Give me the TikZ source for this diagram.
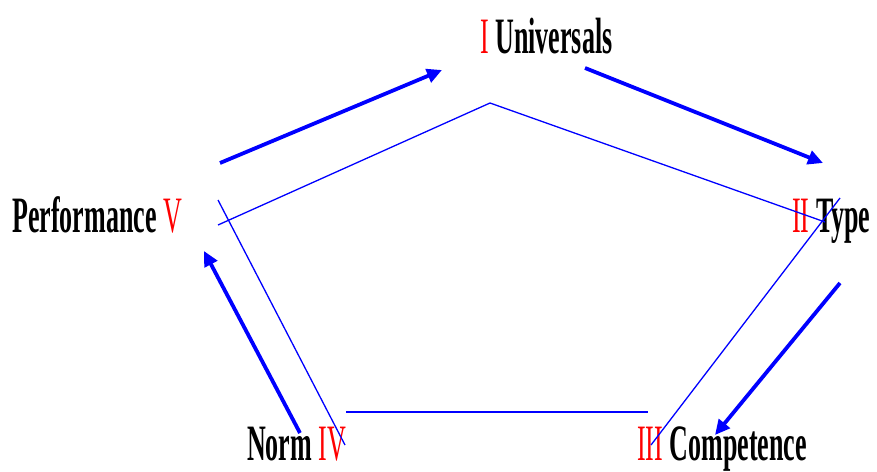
\documentclass[tikz,border=0pt]{standalone}
\usepackage{xcolor}
\usepackage{fontspec}
\usepackage{tikz}
\usetikzlibrary{positioning, arrows.meta}

\newfontfamily\lblfont[FakeStretch=0.51]{Liberation Serif}
\newcommand{\nr}[1]{{\color{red}\mdseries#1}}

\begin{document}
\begin{tikzpicture}[
    x=1pt, y=-1pt,
    >=Stealth,
    % Labels
    lbl/.style={font=\lblfont\bfseries\fontsize{51}{51}\selectfont, inner sep=0pt, anchor=base west, text=black},
    % Pentagon and arrows
    edge_line/.style={draw=blue, line width=1.3pt},
    base_line/.style={draw=blue, line width=2.6pt},
    flow/.style={draw=blue, line width=3.8pt, -{Triangle[length=15pt, width=14pt]}}
]
    \useasboundingbox (0,0) rectangle (877,471);

    % --- LABELS ---
    \node[lbl] (univ) at (480,53) {\nr{I} Universals};
    \node[lbl] (type) at (792,232) {\nr{II} Type};
    \node[lbl] (comp) at (637,460) {\nr{III} Competence};
    \node[lbl] (norm) at (247,460) {Norm \nr{IV}};
    \node[lbl] (perf) at (12,232) {Performance \nr{V}};

    % --- PENTAGON CORNERS ---
    \coordinate (pU)  at (490,103);
    \coordinate (pT1) at (825,222);
    \coordinate (pT2) at (840,198);
    \coordinate (pC)  at (651,445);
    \coordinate (pB2) at (648,412);
    \coordinate (pB1) at (346,412);
    \coordinate (pN)  at (345,445);
    \coordinate (pP2) at (218,200);
    \coordinate (pP1) at (218,225);

    % --- PENTAGON ---
    \draw[edge_line] (pP1) -- (pU) -- (pT1);
    \draw[edge_line] (pT2) -- (pC);
    \draw[base_line] (pB1) -- (pB2);
    \draw[edge_line] (pP2) -- (pN);

    % --- ARROW ENDS ---
    \coordinate (a1s) at (220,163);
    \coordinate (a1e) at (442,70);
    \coordinate (a2s) at (585,68);
    \coordinate (a2e) at (823,163);
    \coordinate (a3s) at (840,283);
    \coordinate (a3e) at (715,435);
    \coordinate (a4s) at (300,433);
    \coordinate (a4e) at (204,251);

    % --- CYCLE ARROWS ---
    \draw[flow] (a1s) -- (a1e);
    \draw[flow] (a2s) -- (a2e);
    \draw[flow] (a3s) -- (a3e);
    \draw[flow] (a4s) -- (a4e);

\end{tikzpicture}
\end{document}
